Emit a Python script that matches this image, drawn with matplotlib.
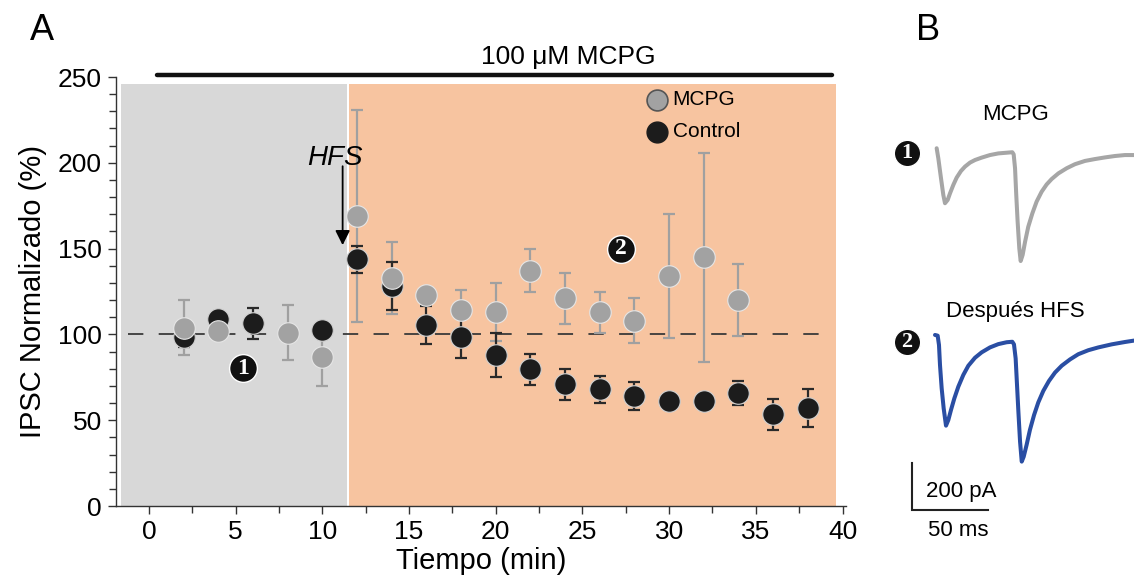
import matplotlib
matplotlib.use("Agg")
import matplotlib.pyplot as plt
from matplotlib.ticker import MultipleLocator

plt.rcParams['font.family'] = ['Liberation Sans', 'DejaVu Sans']

# ---------------- data (panel A) ----------------
mcpg_time = [2, 4, 8, 10, 12, 14, 16, 18, 20, 22, 24, 26, 28, 30, 32, 34]
mcpg_mean = [104, 102, 101, 87, 169, 133, 123, 114, 113, 137, 121, 113, 108, 134, 145, 120]
mcpg_err = [16, 3, 16, 17, 62, 21, 2, 12, 17, 12.5, 15, 12, 13, 36, 61, 21]

ctrl_time = [2, 4, 6, 10, 12, 14, 16, 18, 20, 22, 24, 26, 28, 30, 32, 34, 36, 38]
ctrl_mean = [98.7, 108.8, 106.5, 102.6, 143.7, 128.2, 105.5, 98.7, 88, 79.6, 70.9,
             68, 64.1, 61.2, 61.2, 66, 53.4, 57.3]
ctrl_err = [6, 3, 9, 3, 8, 14, 11, 12.5, 13, 9, 9, 8, 8, 2, 2, 7, 9, 11]

x_ticks = [0, 5, 10, 15, 20, 25, 30, 35, 40]
y_ticks = [0, 50, 100, 150, 200, 250]

# ---------------- data (panel B traces, ms / pA relative to baseline) ----------------
trace1_t = [0.44, 1.53, 3.29, 4.82, 5.92, 7.68, 9.21, 11.4, 13.6, 16.4, 19.1, 22.4,
            25.7, 30.0, 35.5, 41.0, 46.5, 50.2, 51.1, 52.0, 52.8, 53.7, 54.8, 55.7,
            57.0, 58.6, 60.7, 63.4, 66.2, 69.5, 72.8, 76.1, 80.5, 86.0, 91.4, 98.0,
            104.6, 111.2, 117.8, 124.3, 130.3]
trace1_i = [16, -27, -112, -183, -218, -204, -176, -140, -109, -81, -62, -45,
            -34, -24, -13, -6, -3, -1, -10, -69, -183, -296, -410, -464,
            -438, -382, -318, -261, -211, -169, -138, -115, -91, -69, -52, -38,
            -30, -23, -17, -13, -13]
trace2_t = [-0.66, 1.10, 1.97, 2.63, 3.73, 5.04, 6.58, 8.11, 9.87, 12.06, 14.69,
            17.98, 21.27, 25.66, 30.04, 35.53, 41.0, 46.5, 50.2, 51.3, 52.4, 53.3,
            54.2, 55.3, 56.4, 57.7, 59.6, 61.8, 64.5, 67.3, 70.6, 74.3, 78.3, 82.7,
            88.2, 93.6, 100.2, 106.8, 115.6, 124.3, 130.3]
trace2_i = [30, 27, -13, -98, -197, -282, -356, -332, -289, -240, -190,
            -140, -101, -67, -44, -23, -9, -1, 1, -10, -70, -183,
            -296, -424, -509, -488, -438, -374, -311, -257, -208, -166, -130, -101,
            -74, -52, -35, -23, -10, 0, 6]

W, H = 1134, 585
fig = plt.figure(figsize=(W / 100, H / 100), dpi=100)

# ---------------- panel A ----------------
ax = fig.add_axes([116 / W, 1 - 506 / H, (846 - 116) / W, (506 - 77) / H])
ax.set_xlim(-1.9, 40.2)
ax.set_ylim(0, 250)

ax.axvspan(-1.6, 11.42, ymin=0, ymax=246 / 250, color='#d8d8d8', lw=0, zorder=0)
ax.axvspan(11.52, 39.6, ymin=0, ymax=246 / 250, color='#f7c4a0', lw=0, zorder=0)

ax.plot([-1.2, 39.1], [100, 100], color='#3a3a3a', lw=1.3, dashes=[8.5, 8.5], zorder=1)

ax.errorbar(mcpg_time, mcpg_mean, yerr=mcpg_err, fmt='none', ecolor='#a0a0a0',
            elinewidth=1.6, capsize=4, capthick=1.6, zorder=2)
ax.errorbar(ctrl_time, ctrl_mean, yerr=ctrl_err, fmt='none', ecolor='#2a2a2a',
            elinewidth=1.6, capsize=4, capthick=1.6, zorder=3)
ax.plot(ctrl_time, ctrl_mean, 'o', ms=15.5, mfc='#1c1c1c', mec='#d0d0d0', mew=0.8,
        ls='none', zorder=4)
ax.plot(mcpg_time, mcpg_mean, 'o', ms=15.5, mfc='#a2a2a2', mec='#e6e6e6', mew=0.8,
        ls='none', zorder=5)

# legend (manual)
ax.plot([29.3], [236.6], 'o', ms=15, mfc='#a2a2a2', mec='#555555', mew=1.2, zorder=6)
ax.plot([29.3], [218], 'o', ms=15, mfc='#1c1c1c', mec='#1c1c1c', mew=1.0, zorder=6)
ax.text(30.2, 236.6, 'MCPG', fontsize=15, va='center', ha='left', zorder=6)
ax.text(30.2, 218, 'Control', fontsize=15, va='center', ha='left', zorder=6)

# HFS arrow and label
ax.annotate('', xy=(11.17, 152), xytext=(11.17, 198),
            arrowprops=dict(arrowstyle='-|>', lw=1.3, color='black', mutation_scale=22,
                            shrinkA=0, shrinkB=0), zorder=6)
ax.text(10.7, 203, 'HFS', fontsize=20, style='italic', ha='center', va='center', zorder=6)

# circled numbers
def circled(axis, x, y, label, ms=18, fs=15):
    axis.plot([x], [y], 'o', ms=ms, mfc='#111111', mec='white', mew=1.0, zorder=7,
              clip_on=False)
    axis.text(x, y, label, color='white', fontsize=fs, fontweight='bold',
              family=['Liberation Serif', 'DejaVu Serif'], ha='center', va='center',
              zorder=8)

circled(ax, 5.4, 80.4, '1', ms=20, fs=17)
circled(ax, 27.2, 150, '2', ms=20, fs=17)

# MCPG bar
ax.plot([0.46, 39.4], [251.2, 251.2], color='#111111', lw=3.2, solid_capstyle='round',
        clip_on=False, zorder=6)
ax.text(24.2, 261.5, '100 \u03bcM MCPG', fontsize=19, ha='center', va='center',
        clip_on=False)

# axes styling
for s in ['top', 'right']:
    ax.spines[s].set_visible(False)
for s in ['left', 'bottom']:
    ax.spines[s].set_color('#333333')
    ax.spines[s].set_linewidth(1.0)
ax.set_xticks(x_ticks)
ax.set_yticks(y_ticks)
ax.xaxis.set_minor_locator(MultipleLocator(2.5))
ax.yaxis.set_minor_locator(MultipleLocator(10))
ax.tick_params(which='major', direction='out', length=6, width=1.0, color='#333333',
               labelsize=19, pad=4)
ax.tick_params(which='minor', direction='out', length=5, width=1.0, color='#333333')
ax.set_xlabel('Tiempo (min)', fontsize=21, labelpad=2)
ax.set_ylabel('IPSC Normalizado (%)', fontsize=21, labelpad=8)

# panel letters
fig.text(42 / W, 1 - 30 / H, 'A', fontsize=26, ha='center', va='center')
fig.text(928 / W, 1 - 30 / H, 'B', fontsize=26, ha='center', va='center')

# ---------------- panel B ----------------
MS_PER_PX = 50 / 76
PA_PER_PX = 200 / 47
axb = fig.add_axes([890 / W, 1 - 560 / H, 244 / W, 460 / H])
axb.set_xlim((890 - 936) * MS_PER_PX, (1134 - 936) * MS_PER_PX)
axb.set_ylim(-460 * PA_PER_PX, 0)
axb.axis('off')

off1 = -(152 - 100) * PA_PER_PX
off2 = -(342 - 100) * PA_PER_PX
axb.plot(trace1_t, [v + off1 for v in trace1_i], color='#a6a6a6', lw=2.9,
         solid_joinstyle='round', solid_capstyle='round')
axb.plot(trace2_t, [v + off2 for v in trace2_i], color='#2a4ea3', lw=2.9,
         solid_joinstyle='round', solid_capstyle='round')

# scale bar
sb_t = (912 - 936) * MS_PER_PX
sb_y = -(510 - 100) * PA_PER_PX
axb.plot([sb_t, sb_t, sb_t + 50], [sb_y + 200, sb_y, sb_y], color='#222222', lw=1.5,
         solid_joinstyle='miter')

fig.text(1015 / W, 1 - 115 / H, 'MCPG', fontsize=16, ha='center', va='center')
fig.text(1015 / W, 1 - 311 / H, 'Después HFS', fontsize=16, ha='center', va='center')
fig.text(961 / W, 1 - 491 / H, '200 pA', fontsize=16, ha='center', va='center')
fig.text(958 / W, 1 - 530 / H, '50 ms', fontsize=16, ha='center', va='center')

figax = fig.add_axes([0, 0, 1, 1], facecolor='none')
figax.set_xlim(0, W)
figax.set_ylim(H, 0)
figax.axis('off')
circled(figax, 907, 153, '1', ms=19, fs=16)
circled(figax, 907, 342, '2', ms=19, fs=16)

fig.savefig('out.png', dpi=100)
